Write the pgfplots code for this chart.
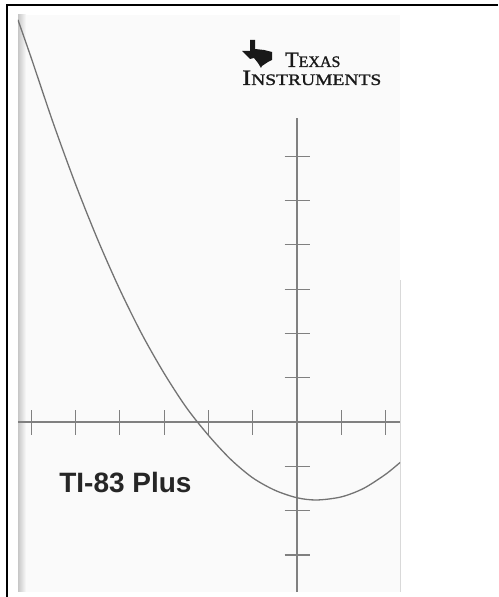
\documentclass[border=0pt]{standalone}
\usepackage{pgfplots}
\pgfplotsset{compat=1.18}
\usepackage{fontspec}
\setmainfont{Liberation Sans}
\newfontfamily\tifont[FakeBold=1.2]{Liberation Serif}
\begin{document}
\begin{tikzpicture}[x=1pt,y=1pt]
\useasboundingbox (0,0) rectangle (498,597);
\fill[white] (0,0) rectangle (498,597);
% photo area
\fill[black!2] (18,5) rectangle (400,582);
\shade[left color=black!22, right color=black!2] (18,5) rectangle (26,582);
\draw[black!15, line width=0.8pt] (400,5) -- (400,317);
\begin{axis}[
  at={(18pt,5pt)}, anchor=south west,
  scale only axis, width=382pt, height=577pt,
  xmin=-6.298, xmax=2.325, ymin=-3.837, ymax=9.187,
  axis lines=middle,
  axis line style={-, draw=black!50, line width=1.2pt},
  y axis line style={draw=none},
  xtick={-6,-5,-4,-3,-2,-1,1,2},
  ytick={-3,-2,-1,1,2,3,4,5,6},
  xticklabels={}, yticklabels={},
  tick align=center,
  major tick length=25pt,
  tick style={draw=black!50, line width=1.2pt},
  clip=true,
]
\addplot[black!50, line width=1.2pt] coordinates {(0,-3.837) (0,6.86)};
\addplot[black!55, line width=1.3pt, smooth] coordinates {
(-6.30,9.08) (-6.0,8.22) (-5.5,6.74) (-5.0,5.37) (-4.5,4.12) (-4.0,2.99)
(-3.5,1.98) (-3.0,1.10) (-2.5,0.33) (-2.0,-0.30) (-1.5,-0.84) (-1.0,-1.26)
(-0.5,-1.54) (0.0,-1.71) (0.45,-1.76) (1.0,-1.69) (1.5,-1.50) (2.0,-1.18) (2.33,-0.91)};
\node[anchor=base west, font=\bfseries\fontsize{28}{28}\selectfont, text=black!85, inner sep=0pt] at (axis cs:-5.37,-1.60) {TI-83 Plus};
\end{axis}
% logo
\fill[black!90] (250,557) -- (255,557) -- (255,548) -- (264,547) -- (272,545) -- (272,537) -- (268,535) -- (262,531) -- (261,529) -- (258,534) -- (254,539) -- (250,538) -- (245,543) -- (242,546) -- (250,546) -- cycle;
\node[anchor=base west, inner sep=0pt, text=black!90] at (285,530) {\tifont\fontsize{22}{22}\selectfont T\fontsize{16}{16}\selectfont EXAS};
\node[anchor=base west, inner sep=0pt, text=black!90, xscale=1.22] at (242,512) {\tifont\fontsize{22}{22}\selectfont I\fontsize{16}{16}\selectfont NSTRUMENTS};
% outer frame
\draw[line width=2.2pt] (7,0) -- (7,592) -- (498,592);
\end{tikzpicture}
\end{document}
